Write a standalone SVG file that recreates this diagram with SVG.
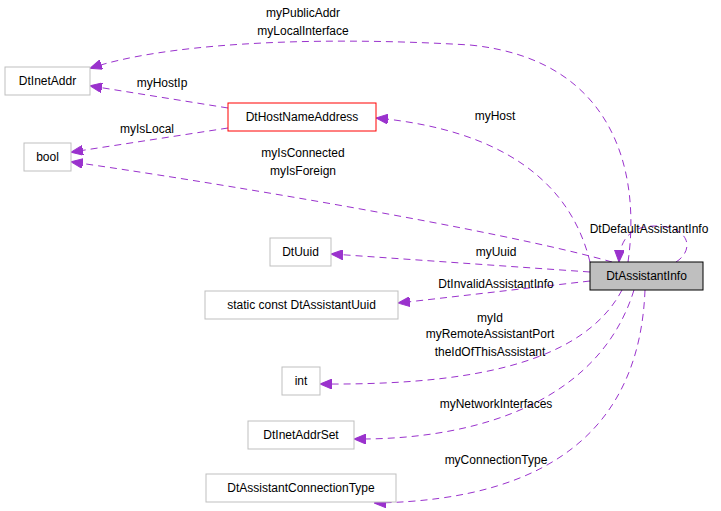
<svg xmlns="http://www.w3.org/2000/svg" width="721" height="511" viewBox="0 0 721 511">
<style>
text{font-family:"Liberation Sans",Arial,sans-serif;font-size:12px;fill:#000}
.n{fill:#fff;stroke:#bfbfbf;stroke-width:1}
.e{fill:none;stroke:#9a32cd;stroke-width:1;stroke-dasharray:7,5}
</style>
<defs><marker id="a" viewBox="0 0 12 10" refX="11" refY="5" markerWidth="12" markerHeight="10" markerUnits="userSpaceOnUse" orient="auto"><path d="M0,0L12,5L0,10z" fill="#9a32cd" stroke="#9a32cd"/></marker></defs>
<rect width="721" height="511" fill="#fff"/>
<g id="edges">
<path class="e" marker-end="url(#a)" d="M628,262C640,180 620,60 470,45C300,35 160,45 91,68"/>
<path class="e" marker-end="url(#a)" d="M228,108L91,86"/>
<path class="e" marker-end="url(#a)" d="M590,262C570,180 500,130 377,118"/>
<path class="e" marker-end="url(#a)" d="M228,128L72,152"/>
<path class="e" marker-end="url(#a)" d="M612,262C500,230 200,180 72,162"/>
<path class="e" marker-end="url(#a)" d="M676,262C695,250 690,226 655,226C632,226 620,238 619,261"/>
<path class="e" marker-end="url(#a)" d="M590,272L332,254"/>
<path class="e" marker-end="url(#a)" d="M590,281L399,303"/>
<path class="e" marker-end="url(#a)" d="M622,290C580,370 450,385 321,384"/>
<path class="e" marker-end="url(#a)" d="M634,290C600,400 480,440 355,439"/>
<path class="e" marker-end="url(#a)" d="M645,290C640,420 560,500 375,503"/>
</g>
<g id="labels">
<text x="303" y="17" text-anchor="middle">myPublicAddr</text>
<text x="303" y="35" text-anchor="middle">myLocalInterface</text>
<text x="162" y="87" text-anchor="middle">myHostIp</text>
<text x="147" y="133" text-anchor="middle">myIsLocal</text>
<text x="495" y="120" text-anchor="middle">myHost</text>
<text x="303" y="157" text-anchor="middle">myIsConnected</text>
<text x="303" y="175" text-anchor="middle">myIsForeign</text>
<text x="649" y="233" text-anchor="middle">DtDefaultAssistantInfo</text>
<text x="496" y="256" text-anchor="middle">myUuid</text>
<text x="496" y="288" text-anchor="middle">DtInvalidAssistantInfo</text>
<text x="490" y="322" text-anchor="middle">myId</text>
<text x="490" y="338" text-anchor="middle">myRemoteAssistantPort</text>
<text x="490" y="356" text-anchor="middle">theIdOfThisAssistant</text>
<text x="496" y="408" text-anchor="middle">myNetworkInterfaces</text>
<text x="496" y="464" text-anchor="middle">myConnectionType</text>
</g>
<g id="DtInetAddr"><rect class="n" x="5" y="67" width="85" height="28"/><text x="47.5" y="85" text-anchor="middle">DtInetAddr</text></g>
<g id="DtHostNameAddress"><rect x="228" y="103" width="148" height="28" fill="#fff" stroke="#ff0000"/><text x="302" y="121" text-anchor="middle">DtHostNameAddress</text></g>
<g id="bool"><rect class="n" x="24" y="143" width="47" height="28"/><text x="47.5" y="161" text-anchor="middle">bool</text></g>
<g id="DtUuid"><rect class="n" x="270" y="238" width="61" height="28"/><text x="300.5" y="256" text-anchor="middle">DtUuid</text></g>
<g id="DtAssistantUuid"><rect class="n" x="205" y="291" width="193" height="28"/><text x="301.5" y="309" text-anchor="middle">static const DtAssistantUuid</text></g>
<g id="int"><rect class="n" x="282" y="367" width="38" height="28"/><text x="301" y="385" text-anchor="middle">int</text></g>
<g id="DtInetAddrSet"><rect class="n" x="248" y="421" width="106" height="28"/><text x="301" y="439" text-anchor="middle">DtInetAddrSet</text></g>
<g id="DtAssistantConnectionType"><rect class="n" x="206" y="474" width="190" height="28"/><text x="301" y="492" text-anchor="middle">DtAssistantConnectionType</text></g>
<g id="DtAssistantInfo"><rect x="590" y="262" width="113" height="28" fill="#bfbfbf" stroke="#000"/><text x="646.5" y="280" text-anchor="middle">DtAssistantInfo</text></g>
</svg>
